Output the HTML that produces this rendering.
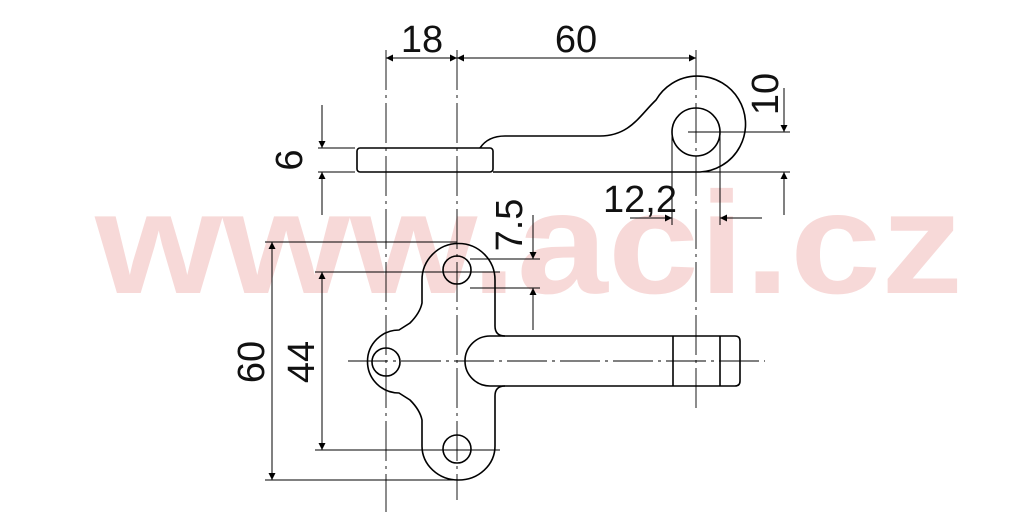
<!DOCTYPE html>
<html><head><meta charset="utf-8"><style>html,body{margin:0;padding:0;background:#fff}svg{display:block}</style></head>
<body>
<svg width="1024" height="512" viewBox="0 0 1024 512" xmlns="http://www.w3.org/2000/svg">
<defs>
<marker id="a" viewBox="0 0 10 10" refX="10" refY="5" markerWidth="17" markerHeight="7" markerUnits="userSpaceOnUse" orient="auto-start-reverse"><path d="M0,0 L10,5 L0,10 z" fill="#000"/></marker>
</defs>
<text x="95" y="293" font-family="Liberation Sans, sans-serif" font-weight="bold" font-size="145" fill="#f7d9d8" textLength="868" lengthAdjust="spacingAndGlyphs">www.aci.cz</text>
<g fill="none" stroke="#000" stroke-width="1">
<g stroke-dasharray="40,5,3,5" stroke-width="0.9">
<line x1="386" y1="50" x2="386" y2="512"/>
<line x1="457" y1="50" x2="457" y2="500"/>
<line x1="696" y1="50" x2="696" y2="413"/>
<line x1="348" y1="361" x2="765" y2="361"/>
</g>
<g stroke-width="1.6">
<rect x="357" y="148" width="136" height="24" rx="3"/>
<path d="M480,148 Q488,136 505,136 L600,136 C630,136 640,115 656,100 A48,48 0 1 1 700,172 L493,172"/>
<circle cx="696" cy="132" r="24"/>
</g>
<line x1="386" y1="58" x2="457" y2="58" marker-start="url(#a)" marker-end="url(#a)"/>
<line x1="457" y1="58" x2="696" y2="58" marker-start="url(#a)" marker-end="url(#a)"/>
<line x1="318" y1="148" x2="355" y2="148"/><line x1="318" y1="172" x2="355" y2="172"/>
<line x1="322" y1="105" x2="322" y2="148" marker-end="url(#a)"/>
<line x1="322" y1="215" x2="322" y2="172" marker-end="url(#a)"/>
<line x1="688" y1="132" x2="790" y2="132"/><line x1="700" y1="172" x2="790" y2="172"/>
<line x1="784" y1="88" x2="784" y2="132" marker-end="url(#a)"/>
<line x1="784" y1="215" x2="784" y2="172" marker-end="url(#a)"/>
<line x1="672" y1="132" x2="672" y2="225"/><line x1="720" y1="132" x2="720" y2="225"/>
<line x1="630" y1="218" x2="672" y2="218" marker-end="url(#a)"/>
<line x1="762" y1="218" x2="720" y2="218" marker-end="url(#a)"/>
<g stroke-width="1.6">
<path d="M422,280 A36,36 0 0 1 495,280 L495,326 Q495,336 505,336 L735,336 Q740,336 740,341 L740,381 Q740,386 735,386 L505,386 Q495,386 495,396 L495,446 A36.5,34 0 0 1 422,446 L422,420 Q420,410 410,400 L399,393 A29,29 0 0 1 399,330 L410,323 Q420,313 422,303 Z"/>
<path d="M505,336 L490,336 A25,25 0 0 0 490,386 L505,386"/>
<circle cx="457" cy="270" r="14"/>
<circle cx="386" cy="362" r="14"/>
<circle cx="457" cy="449" r="14"/>
<line x1="673" y1="336" x2="673" y2="386"/><line x1="720" y1="336" x2="720" y2="386"/>
</g>
<line x1="265" y1="242" x2="457" y2="242"/><line x1="265" y1="480" x2="457" y2="480"/>
<line x1="315" y1="272" x2="500" y2="272"/><line x1="315" y1="450" x2="500" y2="450"/>
<line x1="272" y1="242" x2="272" y2="480" marker-start="url(#a)" marker-end="url(#a)"/>
<line x1="322" y1="272" x2="322" y2="450" marker-start="url(#a)" marker-end="url(#a)"/>
<line x1="470" y1="259" x2="540" y2="259"/><line x1="470" y1="288" x2="540" y2="288"/>
<line x1="533" y1="215" x2="533" y2="259" marker-end="url(#a)"/>
<line x1="533" y1="330" x2="533" y2="288" marker-end="url(#a)"/>
</g>
<g font-family="Liberation Sans, sans-serif" font-size="38" fill="#111" text-anchor="middle">
<text x="422" y="52">18</text>
<text x="576" y="52">60</text>
<text x="640" y="212">12,2</text>
<text transform="translate(302,160) rotate(-90)">6</text>
<text transform="translate(778,94) rotate(-90)">10</text>
<text transform="translate(522,225) rotate(-90)">7.5</text>
<text transform="translate(264,362) rotate(-90)">60</text>
<text transform="translate(314,362) rotate(-90)">44</text>
</g>
</svg>
</body></html>
